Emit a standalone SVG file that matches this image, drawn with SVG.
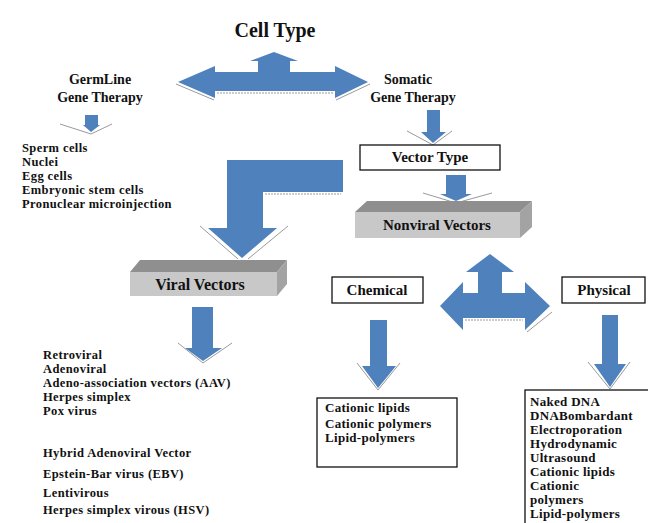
<svg xmlns="http://www.w3.org/2000/svg" width="648" height="523" viewBox="0 0 648 523">
<style>
text{font-family:"Liberation Serif","Times New Roman",serif;font-weight:bold;fill:#111}
.t13{font-size:13px;letter-spacing:0.3px}
.t12{font-size:12.5px;letter-spacing:0.4px}
.lbl{font-size:15px;text-anchor:middle}
.box{fill:#fff;stroke:#111;stroke-width:1.3}
.arr{fill:#4f81bd}
.wing{fill:none;stroke:#9a9a9a;stroke-width:1}
.top{fill:#8f8f8f}
.front{fill:#c8c8c8}
.side{fill:#a3a3a3}
</style>
<rect width="648" height="523" fill="#fff"/>

<g id="connectors">
  <!-- Cell type three-way arrow -->
  <polygon class="arr" points="274,52 298,61 290,61 290,72 335,72 335,66 368,82 335,98 335,91 215,91 215,98 178,82 215,66 215,72 258,72 258,61 250,61"/>
  <polyline class="wing" points="176,84 214,100"/>
  <polyline class="wing" points="336,100 370,84"/>
  <line class="wing" x1="217" y1="93" x2="333" y2="93" stroke-dasharray="2,1"/>
  <!-- germline small arrow -->
  <polygon class="arr" points="85,115 98,115 98,125 100,125 91,132 83,125 85,125"/>
  <polyline class="wing" points="60,124 91,134 112,124"/>
  <!-- somatic to vector type -->
  <polygon class="arr" points="427,110 440,110 440,132 446,132 433,143 421,132 427,132"/>
  <polyline class="wing" points="407,131 433,145 452,131"/>
  <!-- vector type to nonviral -->
  <polygon class="arr" points="446,175 466,175 466,194 472,194 456,201 440,194 446,194"/>
  <polyline class="wing" points="423,193 456,203 492,193"/>
  <!-- bent arrow to viral vectors -->
  <polygon class="arr" points="227,160 343,160 343,192 263,192 263,228 277,228 242,258 208,228 227,228"/>
  <line class="wing" x1="265" y1="194" x2="341" y2="194" stroke-dasharray="2,1"/>
  <polyline class="wing" points="200,226 238,259"/>
  <polyline class="wing" points="288,226 248,259"/>
  <!-- viral down arrow -->
  <polygon class="arr" points="192,307 213,307 213,348 222,348 203,361 185,348 192,348"/>
  <polyline class="wing" points="178,343 203,363 232,343"/>
  <!-- nonviral four-way arrow -->
  <polygon class="arr" points="490,254 514,272 502,272 502,293 525,293 525,282 550,306 525,330 525,318 463,318 463,330 440,306 463,282 463,293 478,293 478,272 466,272"/>
  <polyline class="wing" points="527,332 552,312"/>
  <line class="wing" x1="465" y1="320" x2="523" y2="320" stroke-dasharray="2,1"/>
  <!-- chemical down arrow -->
  <polygon class="arr" points="370,320 387,320 387,366 396,366 378,388 362,366 370,366"/>
  <polyline class="wing" points="357,363 378,390 400,363"/>
  <!-- physical down arrow -->
  <polygon class="arr" points="602,315 618,315 618,364 626,364 610,387 594,364 602,364"/>
  <polyline class="wing" points="588,362 610,389 630,362"/>
</g>

<g id="title"><text x="275" y="37" style="font-size:20px;text-anchor:middle">Cell Type</text></g>

<g id="germline">
  <text x="100" y="84" style="font-size:14px;text-anchor:middle">GermLine</text>
  <text x="100" y="102" style="font-size:14px;text-anchor:middle">Gene Therapy</text>
</g>

<g id="somatic">
  <text x="408" y="84" style="font-size:14px;text-anchor:middle">Somatic</text>
  <text x="413" y="102" style="font-size:14px;text-anchor:middle">Gene Therapy</text>
</g>

<g id="germline-list" class="t12">
  <text x="22" y="152">Sperm cells</text>
  <text x="22" y="166">Nuclei</text>
  <text x="22" y="180">Egg cells</text>
  <text x="22" y="194">Embryonic stem cells</text>
  <text x="22" y="208">Pronuclear microinjection</text>
</g>

<g id="vector-type">
  <rect class="box" x="360" y="145" width="140" height="25"/>
  <text class="lbl" x="430" y="162">Vector Type</text>
</g>

<g id="nonviral-vectors">
  <polygon class="top" points="355,212 367,201 532,201 520,212"/>
  <polygon class="side" points="520,212 532,201 532,227 520,238"/>
  <rect class="front" x="355" y="212" width="165" height="26"/>
  <text class="lbl" x="437" y="230">Nonviral Vectors</text>
</g>

<g id="viral-vectors">
  <polygon class="top" points="130,272 140,260 287,260 277,272"/>
  <polygon class="side" points="277,272 287,260 287,284 277,296"/>
  <rect class="front" x="130" y="272" width="147" height="24"/>
  <text x="200" y="290" style="font-size:16px;text-anchor:middle">Viral Vectors</text>
</g>

<g id="chemical">
  <rect class="box" x="332" y="277" width="91" height="26"/>
  <text class="lbl" x="377" y="295">Chemical</text>
</g>

<g id="physical">
  <rect class="box" x="562" y="277" width="83" height="26"/>
  <text class="lbl" x="604" y="295">Physical</text>
</g>

<g id="viral-list" class="t12">
  <text x="43" y="359">Retroviral</text>
  <text x="43" y="373">Adenoviral</text>
  <text x="43" y="387">Adeno-association vectors (AAV)</text>
  <text x="43" y="401">Herpes simplex</text>
  <text x="43" y="415">Pox virus</text>
  <text x="43" y="457">Hybrid Adenoviral Vector</text>
  <text x="43" y="478">Epstein-Bar virus (EBV)</text>
  <text x="43" y="497">Lentivirous</text>
  <text x="43" y="514">Herpes simplex virous (HSV)</text>
</g>

<g id="chemical-list">
  <rect class="box" x="317" y="398" width="140" height="69"/>
  <text class="t13" x="325" y="412">Cationic lipids</text>
  <text class="t13" x="325" y="428">Cationic polymers</text>
  <text class="t13" x="325" y="442">Lipid-polymers</text>
</g>

<g id="physical-list">
  <rect class="box" x="525" y="390" width="130" height="140"/>
  <text class="t13" x="530" y="406">Naked DNA</text>
  <text class="t13" x="530" y="420">DNABombardant</text>
  <text class="t13" x="530" y="434">Electroporation</text>
  <text class="t13" x="530" y="448">Hydrodynamic</text>
  <text class="t13" x="530" y="462">Ultrasound</text>
  <text class="t13" x="530" y="476">Cationic lipids</text>
  <text class="t13" x="530" y="490">Cationic</text>
  <text class="t13" x="530" y="504">polymers</text>
  <text class="t13" x="530" y="518">Lipid-polymers</text>
</g>
</svg>
